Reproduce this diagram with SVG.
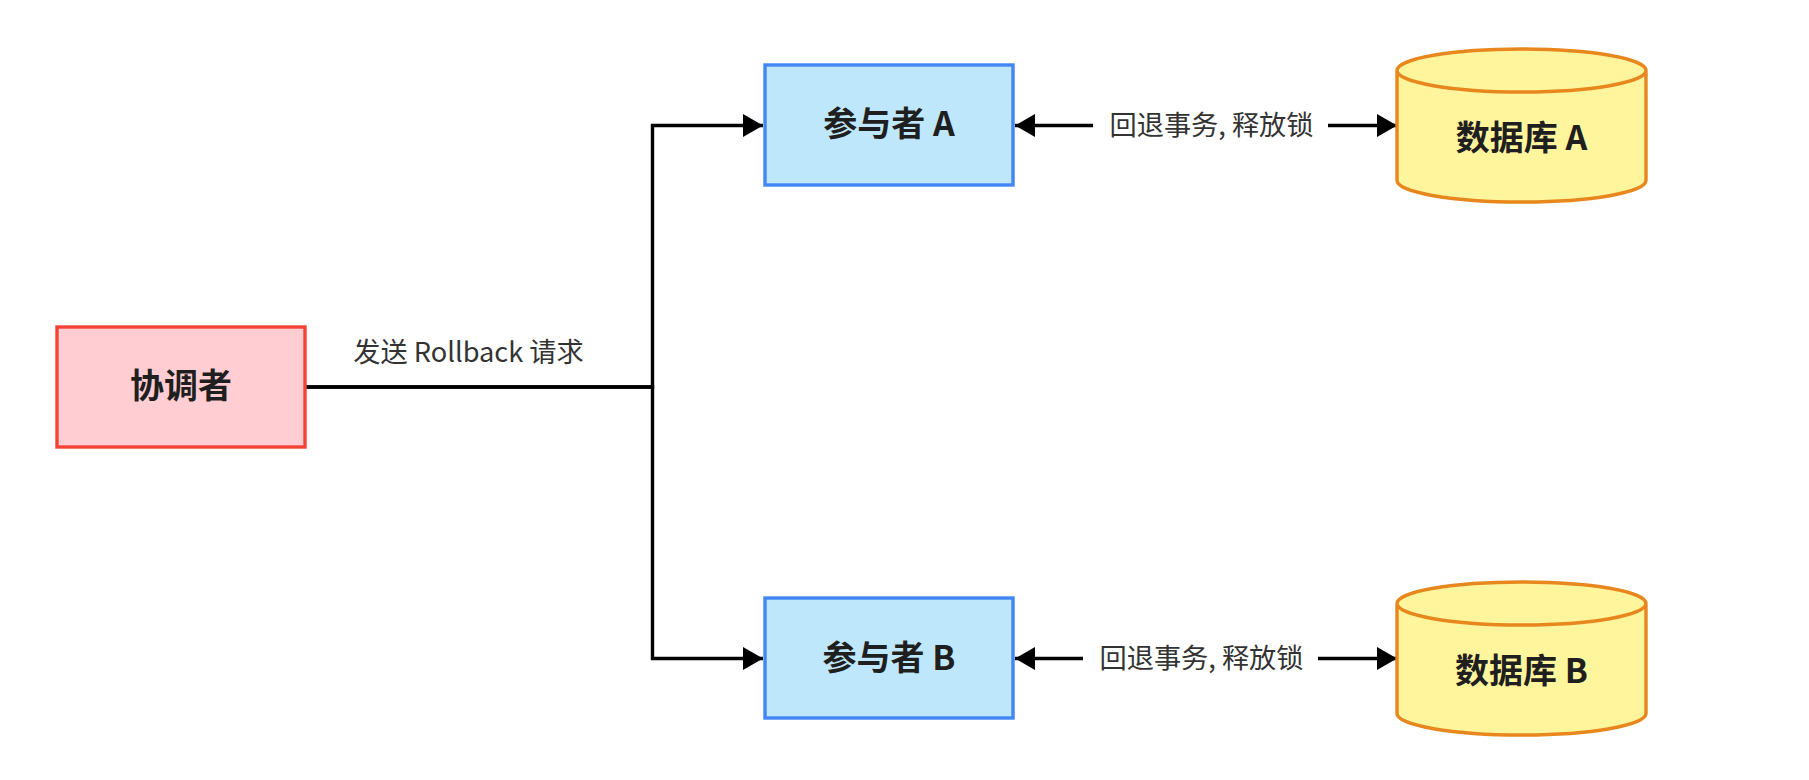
<svg xmlns="http://www.w3.org/2000/svg" width="1809" height="780" viewBox="0 0 1809 780">
<style>
.coord{fill:#FFCDD2;stroke:#F44336;stroke-width:3.4}
.part{fill:#BFE7FC;stroke:#4285F4;stroke-width:3.4}
.db{fill:#FFF59D;stroke:#E8871E;stroke-width:3.4}
.nlabel{font-family:"Noto Sans CJK SC","Noto Sans",sans-serif;font-weight:700;font-size:34px;fill:#1f1f1f;text-anchor:middle}
.elabel{font-family:"Noto Sans CJK SC","Noto Sans",sans-serif;font-size:27.2px;fill:#333333;text-anchor:middle}
.edge{fill:none;stroke:#000000;stroke-width:3.4}
.lbg{fill:#ffffff}
</style>
<defs>
<marker id="arrow" markerUnits="userSpaceOnUse" viewBox="0 0 20 23" markerWidth="20" markerHeight="23" refX="20" refY="11.5" orient="auto-start-reverse">
<path d="M0,0 L20,11.5 L0,23 z" fill="#000000"/>
</marker>
</defs>
<rect width="1809" height="780" fill="#ffffff"/>
<g id="connectors">
<path class="edge" d="M305,387 H652.5 V125.5 H763" marker-end="url(#arrow)"/>
<path class="edge" d="M305,387 H652.5 V658.5 H763" marker-end="url(#arrow)"/>
<path class="edge" d="M1015,125.5 H1397" marker-start="url(#arrow)" marker-end="url(#arrow)"/>
<path class="edge" d="M1015,658.5 H1397" marker-start="url(#arrow)" marker-end="url(#arrow)"/>
<rect class="lbg" x="1093" y="105" width="235" height="40"/>
<rect class="lbg" x="1083" y="638" width="235" height="40"/>
<text class="elabel" x="468.5" y="362">发送 Rollback 请求</text>
<text class="elabel" x="1211.5" y="135">回退事务, 释放锁</text>
<text class="elabel" x="1201.5" y="668">回退事务, 释放锁</text>
</g>
<g id="coordinator">
<rect class="coord" x="57" y="327" width="248" height="120"/>
<text class="nlabel" x="181" y="398">协调者</text>
</g>
<g id="participantA">
<rect class="part" x="765" y="65" width="248" height="120"/>
<text class="nlabel" x="889" y="136">参与者 A</text>
</g>
<g id="participantB">
<rect class="part" x="765" y="598" width="248" height="120"/>
<text class="nlabel" x="889" y="670">参与者 B</text>
</g>
<g id="databaseA">
<path class="db" d="M1397,70.5 a124.5,21.5 0 0,0 249,0 a124.5,21.5 0 0,0 -249,0 l0,110 a124.5,21.5 0 0,0 249,0 l0,-110"/>
<text class="nlabel" x="1521.5" y="150">数据库 A</text>
</g>
<g id="databaseB">
<path class="db" d="M1397,603.5 a124.5,21.5 0 0,0 249,0 a124.5,21.5 0 0,0 -249,0 l0,110 a124.5,21.5 0 0,0 249,0 l0,-110"/>
<text class="nlabel" x="1521.5" y="683">数据库 B</text>
</g>
</svg>
